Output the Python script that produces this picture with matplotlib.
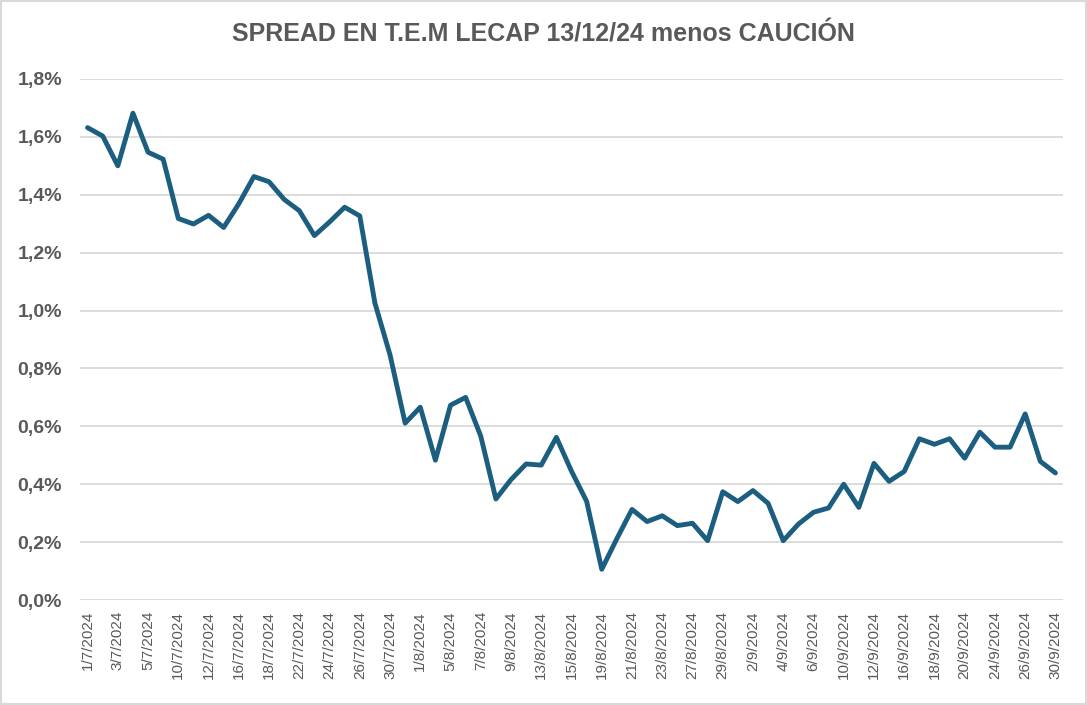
"""
Spread en T.E.M: LECAP 13/12/24 menos caución, julio-septiembre 2024.
"""

import matplotlib

matplotlib.use("Agg")
import matplotlib.pyplot as plt
from matplotlib.patches import Rectangle
from matplotlib.ticker import FuncFormatter, MultipleLocator

# trading days, 1/7/2024 .. 30/9/2024
dates = [
    "1/7/2024", "2/7/2024", "3/7/2024", "4/7/2024", "5/7/2024", "8/7/2024",
    "10/7/2024", "11/7/2024", "12/7/2024", "15/7/2024", "16/7/2024", "17/7/2024",
    "18/7/2024", "19/7/2024", "22/7/2024", "23/7/2024", "24/7/2024", "25/7/2024",
    "26/7/2024", "29/7/2024", "30/7/2024", "31/7/2024", "1/8/2024", "2/8/2024",
    "5/8/2024", "6/8/2024", "7/8/2024", "8/8/2024", "9/8/2024", "12/8/2024",
    "13/8/2024", "14/8/2024", "15/8/2024", "16/8/2024", "19/8/2024", "20/8/2024",
    "21/8/2024", "22/8/2024", "23/8/2024", "26/8/2024", "27/8/2024", "28/8/2024",
    "29/8/2024", "30/8/2024", "2/9/2024", "3/9/2024", "4/9/2024", "5/9/2024",
    "6/9/2024", "9/9/2024", "10/9/2024", "11/9/2024", "12/9/2024", "13/9/2024",
    "16/9/2024", "17/9/2024", "18/9/2024", "19/9/2024", "20/9/2024", "23/9/2024",
    "24/9/2024", "25/9/2024", "26/9/2024", "27/9/2024", "30/9/2024",
]

# spread in percentage points
spread = [
    1.632, 1.603, 1.500, 1.682, 1.547, 1.523, 1.318, 1.299, 1.329, 1.287,
    1.369, 1.463, 1.445, 1.384, 1.345, 1.259, 1.306, 1.357, 1.327, 1.026,
    0.847, 0.611, 0.666, 0.483, 0.673, 0.700, 0.566, 0.349, 0.416, 0.470,
    0.466, 0.562, 0.445, 0.341, 0.106, 0.212, 0.313, 0.271, 0.291, 0.257,
    0.265, 0.205, 0.374, 0.340, 0.378, 0.334, 0.205, 0.262, 0.303, 0.318,
    0.400, 0.320, 0.472, 0.410, 0.444, 0.557, 0.538, 0.557, 0.490, 0.580,
    0.528, 0.528, 0.643, 0.479, 0.439,
]

title = "SPREAD EN T.E.M LECAP 13/12/24 menos CAUCIÓN"

LINE_COLOR = "#1b5e7f"
TEXT_COLOR = "#595959"
GRID_COLOR = "#d9d9d9"
FONT = ["Liberation Sans", "DejaVu Sans"]

fig = plt.figure(figsize=(10.87, 7.05), dpi=100)
ax = fig.add_axes([80 / 1087, 1 - 600 / 705, 983 / 1087, 521 / 705])

x = list(range(len(spread)))
ax.plot(x, spread, color=LINE_COLOR, linewidth=3.5, solid_joinstyle="round",
        solid_capstyle="round", zorder=3)

ax.set_xlim(-0.5, len(spread) - 0.5)
ax.set_ylim(0, 1.8)
ax.yaxis.set_major_locator(MultipleLocator(0.2))
ax.yaxis.set_major_formatter(FuncFormatter(lambda v, _: f"{v:.1f}%".replace(".", ",")))
ax.grid(axis="y", color=GRID_COLOR, linewidth=1.3)
ax.set_axisbelow(True)

ax.set_xticks(x[::2])
ax.set_xticklabels(dates[::2], rotation=90, fontsize=11, color=TEXT_COLOR, family=FONT)
for lbl in ax.get_yticklabels():
    lbl.set_fontsize(14)
    lbl.set_fontweight("bold")
    lbl.set_color(TEXT_COLOR)
    lbl.set_family(FONT)

ax.tick_params(axis="both", length=0)
ax.tick_params(axis="x", pad=8)
ax.tick_params(axis="y", pad=13)
for spine in ax.spines.values():
    spine.set_visible(False)

fig.text(0.5, 1 - 35 / 705, title, ha="center", va="center", fontsize=18,
         fontweight="bold", color=TEXT_COLOR, family=FONT)

# outer chart border
fig.patches.append(Rectangle((0.001, 0.001), 0.998, 0.997, transform=fig.transFigure,
                             fill=False, edgecolor=GRID_COLOR, linewidth=1.5))

fig.savefig("out.png", dpi=100)
